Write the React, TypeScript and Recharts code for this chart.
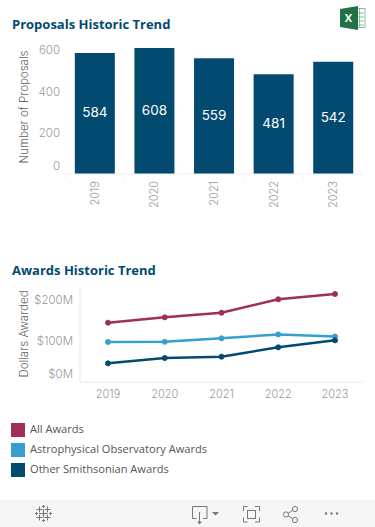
import React from "react";
import { BarChart, Bar, LineChart, Line, XAxis, YAxis, LabelList } from "recharts";

const years = ["2019", "2020", "2021", "2022", "2023"];
const proposals = [584, 608, 559, 481, 542];
const allAwards = [144.6, 157.7, 169, 201.7, 214.6];
const astroAwards = [97.6, 98, 106.5, 116, 111];
const otherAwards = [45.5, 58.5, 61.7, 84.6, 101.6];
const proposalTicks = [0, 200, 400, 600];
const awardTicks = [0, 100, 200];
const legendNames = ["All Awards", "Astrophysical Observatory Awards", "Other Smithsonian Awards"];

const NAVY = "#024a70";
const WINE = "#a12e53";
const SKY = "#35a0d0";
const TICK = "#999999";
const AXIS = "#f0f0f0";
const TICK_FONT = "Inter, 'Noto Sans', sans-serif";
const TEXT_FONT = "'Open Sans', sans-serif";

const barData = years.map((year, i) => ({ year, proposals: proposals[i] }));
const lineData = years.map((year, i) => ({
  year,
  all: allAwards[i],
  astro: astroAwards[i],
  other: otherAwards[i],
}));

const BarYTick = (p: any) => (
  <text x={p.x + 3} y={p.y + (p.payload.value === 0 ? -8.5 : 0)} dy={4.5} textAnchor="end" fontSize={11.5} fontWeight={300} fontFamily={TICK_FONT} fill={TICK}>
    {p.payload.value}
  </text>
);

const BarXTick = (p: any) => (
  <g>
    <line x1={p.x - 29.8} x2={p.x - 29.8} y1={174} y2={178} stroke={AXIS} />
    <text transform={`translate(${p.x + 4},181) rotate(-90)`} textAnchor="end" fontSize={11} fontWeight={300} fontFamily={TICK_FONT} fill={TICK}>
      {p.payload.value}
    </text>
  </g>
);

const LineYTick = (p: any) => (
  <text x={p.x + 1} y={p.y + (p.payload.value === 0 ? -8 : 0)} dy={4} textAnchor="end" fontSize={11.5} fontWeight={300} fontFamily={TICK_FONT} fill={TICK}>
    {`$${p.payload.value}M`}
  </text>
);

const LineXTick = (p: any) => (
  <text x={p.x} y={143} textAnchor="middle" fontSize={11} fontWeight={300} fontFamily={TICK_FONT} fill={TICK}>
    {p.payload.value}
  </text>
);

const axisTitle = (text: string, cy: number) => () => (
  <text transform={`translate(28,${cy}) rotate(-90)`} textAnchor="middle" fontSize={11.5} fontWeight={300} fontFamily={TICK_FONT} fill="#666">
    {text}
  </text>
);

const titleStyle = (top: number): React.CSSProperties => ({
  position: "absolute",
  left: 12,
  top,
  fontFamily: TEXT_FONT,
  fontWeight: 700,
  fontSize: 13,
  lineHeight: "18px",
  color: NAVY,
  whiteSpace: "nowrap",
});

const ExcelIcon = () => (
  <svg width={26} height={24} viewBox="0 0 26 24" style={{ position: "absolute", left: 340, top: 6 }}>
    <rect x={9} y={2.5} width={16} height={19} fill="#fff" stroke="#8fbfa0" />
    <path d="M15 7h9M15 11h9M15 15h9M15 19h9M19.5 3v18" stroke="#8fbfa0" fill="none" />
    <path d="M0 3L18 0V24L0 21Z" fill="#217346" />
    <text x={8.5} y={16} fontSize={11} fontWeight={700} fontFamily={TEXT_FONT} fill="#fff" textAnchor="middle">X</text>
  </svg>
);

const plus = (cx: number, cy: number, r: number) => `M${cx - r} ${cy}h${2 * r}M${cx} ${cy - r}v${2 * r}`;

const Toolbar = () => (
  <svg width={375} height={27} style={{ position: "absolute", left: 0, top: 500 }}>
    <rect width={375} height={27} fill="#f6f6f6" />
    <g stroke="#777" strokeWidth={1} fill="none">
      <path d={plus(43.5, 13.5, 4)} strokeWidth={1.2} />
      <path d={[plus(39.5, 9.5, 3), plus(47.5, 9.5, 3), plus(39.5, 17.5, 3), plus(47.5, 17.5, 3)].join("")} />
      <path d={[plus(43.5, 6.5, 1.5), plus(43.5, 20.5, 1.5), plus(36.5, 13.5, 1.5), plus(50.5, 13.5, 1.5)].join("")} />
      <path d="M196.500 18.500h-4v-12h14.500v12h-4M199.500 12v11" />
      <path d="M243.500 11v-4.500h4M255 6.500h4.500v4.500M259.500 17.500v4.500h-4.500M247.500 22h-4v-4.500" />
      <rect x={247.500} y={10.500} width={8} height={8} />
      <circle cx={295} cy={9} r={2.6} />
      <circle cx={286} cy={14.500} r={2.6} />
      <circle cx={295} cy={20} r={2.6} />
      <path d="M288.300 13.200l4.500-2.900M288.300 15.800l4.500 2.900" />
    </g>
    <path d="M212 12h7l-3.500 3.500Z" fill="#777" />
    <path d="M197 21.500h5l-2.500 3Z" fill="#777" />
    <circle cx={326} cy={13.500} r={1.2} fill="#777" />
    <circle cx={331.500} cy={13.500} r={1.2} fill="#777" />
    <circle cx={337} cy={13.500} r={1.2} fill="#777" />
  </svg>
);

export default function App() {
  const colors = [WINE, SKY, NAVY];
  return (
    <div style={{ position: "absolute", left: 0, top: 0, width: 375, height: 527, background: "#fff", overflow: "hidden" }}>
      <div style={titleStyle(15)}>Proposals Historic Trend</div>
      <ExcelIcon />
      <div style={{ position: "absolute", left: 0, top: 0 }}>
        <BarChart width={375} height={260} data={barData} margin={{ top: 45.5, right: 12, bottom: 0, left: 0 }} barCategoryGap="16.5%">
          <XAxis dataKey="year" height={86} tick={BarXTick} tickLine={false} axisLine={{ stroke: AXIS }} interval={0} />
          <YAxis width={65} domain={[0, 620]} ticks={proposalTicks} tick={BarYTick} tickLine={false} axisLine={false} interval={0} label={{ content: axisTitle("Number of Proposals", 107) }} />
          <Bar dataKey="proposals" fill={NAVY} isAnimationActive={false}>
            <LabelList dataKey="proposals" position="center" fill="#fff" fontSize={13.5} fontWeight={400} fontFamily={TICK_FONT} dy={-1} />
          </Bar>
        </BarChart>
      </div>

      <div style={titleStyle(261)}>Awards Historic Trend</div>
      <div style={{ position: "absolute", left: 0, top: 255 }}>
        <LineChart width={375} height={155} data={lineData} margin={{ top: 32.7, right: 12, bottom: 0, left: 0 }}>
          <XAxis dataKey="year" height={28} padding={{ left: 28, right: 28 }} tick={LineXTick} tickLine={false} axisLine={{ stroke: AXIS, strokeWidth: 1.5 }} interval={0} />
          <YAxis width={80} domain={[0, 230]} ticks={awardTicks} tick={LineYTick} tickLine={false} axisLine={{ stroke: AXIS, strokeWidth: 1.5 }} interval={0} label={{ content: axisTitle("Dollars Awarded", 79) }} />
          <Line dataKey="all" stroke={WINE} strokeWidth={2.5} dot={{ r: 2.5, fill: WINE, stroke: WINE, strokeWidth: 1 }} isAnimationActive={false} />
          <Line dataKey="astro" stroke={SKY} strokeWidth={2.5} dot={{ r: 2.5, fill: SKY, stroke: SKY, strokeWidth: 1 }} isAnimationActive={false} />
          <Line dataKey="other" stroke={NAVY} strokeWidth={2.5} dot={{ r: 2.5, fill: NAVY, stroke: NAVY, strokeWidth: 1 }} isAnimationActive={false} />
        </LineChart>
      </div>

      {legendNames.map((name, i) => (
        <div key={name} style={{ position: "absolute", left: 11, top: 423 + i * 20, height: 14 }}>
          <span style={{ position: "absolute", left: 0, top: 0, width: 14, height: 14, background: colors[i] }} />
          <span style={{ position: "absolute", left: 19, top: -2, lineHeight: "16px", fontFamily: TEXT_FONT, fontSize: 11.1, color: "#555", whiteSpace: "nowrap" }}>{name}</span>
        </div>
      ))}
      <Toolbar />
    </div>
  );
}
